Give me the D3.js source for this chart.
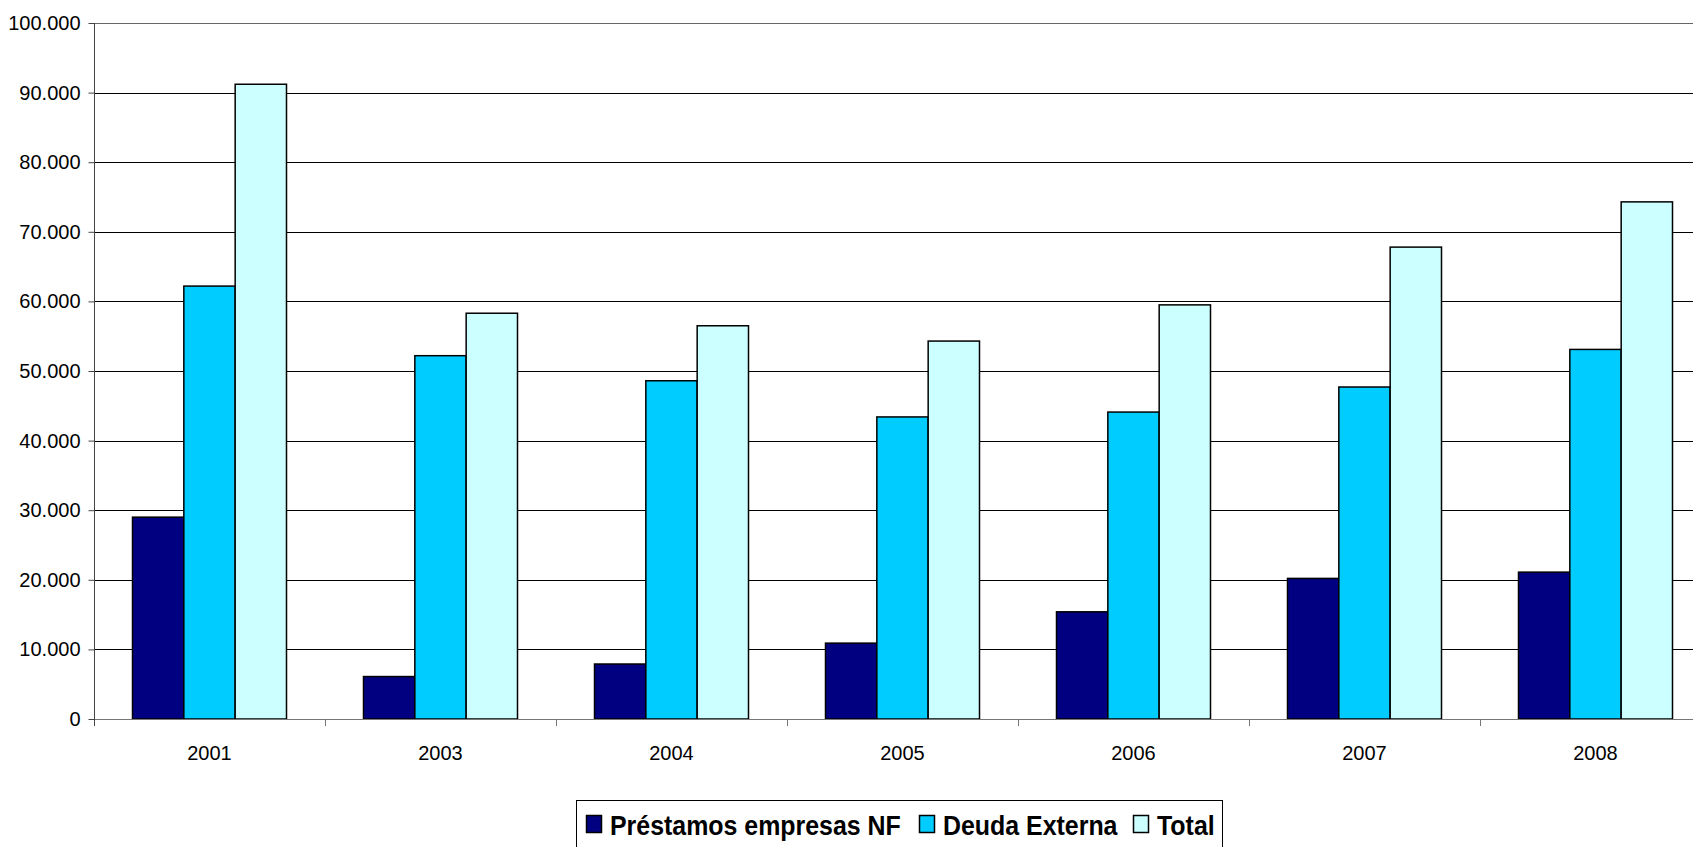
<!DOCTYPE html>
<html>
<head>
<meta charset="utf-8">
<script src="https://cdn.jsdelivr.net/npm/d3@7"></script>
<style>
  body { margin: 0; background: #fff; }
  svg { display: block; font-family: "Liberation Sans", Arial, sans-serif; }
  .yAxis text, .xAxis text { fill: #000; }
</style>
</head>
<body>
<div id="chart"></div>
<script>
// categories and series
const years = ['2001', '2003', '2004', '2005', '2006', '2007', '2008']
const prestamos = [29000, 6100, 7900, 10900, 15400, 20200, 21100]
const deuda = [62200, 52200, 48600, 43400, 44100, 47700, 53100]
const total = [91200, 58300, 56500, 54300, 59500, 67800, 74300]
const seriesNames = ['Préstamos empresas NF', 'Deuda Externa', 'Total']
const yTicks = [0, 10000, 20000, 30000, 40000, 50000, 60000, 70000, 80000, 90000, 100000]

const colors = ['#000080', '#00ccff', '#ccffff']
const series = [prestamos, deuda, total]

const W = 1693, H = 847
const plotLeft = 94, plotTop = 23, plotBottom = 719
const step = 231

const fmt = d3.formatLocale({ decimal: ',', thousands: '.', grouping: [3], currency: ['', ''] }).format(',')

const svg = d3.select('#chart').append('svg')
  .attr('width', W)
  .attr('height', H)

// set the ranges
const x = d3.scaleBand().domain(years)
  .range([plotLeft, plotLeft + step * years.length])
  .paddingInner(1 / 3)
  .paddingOuter(1 / 6)
const xs = d3.scaleBand().domain(d3.range(series.length)).range([0, x.bandwidth()])
const y = d3.scaleLinear().domain([0, 100000]).range([plotBottom, plotTop])

// gridlines
svg.append('g').selectAll('line').data(yTicks.slice(1))
  .enter().append('line')
    .attr('x1', plotLeft).attr('x2', W)
    .attr('y1', d => Math.round(y(d)) + 0.5)
    .attr('y2', d => Math.round(y(d)) + 0.5)
    .attr('stroke', d => d === 100000 ? '#666' : '#000')
    .attr('stroke-width', 1)

// bars
const groups = svg.append('g').selectAll('g').data(years)
  .enter().append('g')
    .attr('transform', d => `translate(${x(d)},0)`)

groups.selectAll('rect')
  .data((d, i) => series.map((s, k) => ({ k: k, v: s[i] })))
  .enter().append('rect')
    .attr('x', d => xs(d.k))
    .attr('width', xs.bandwidth())
    .attr('y', d => y(d.v))
    .attr('height', d => y(0) - y(d.v))
    .attr('fill', d => colors[d.k])
    .attr('stroke', '#000')
    .attr('stroke-width', 1.5)

// x axis line and boundary ticks
svg.append('line')
  .attr('x1', plotLeft).attr('x2', W)
  .attr('y1', plotBottom + 0.5).attr('y2', plotBottom + 0.5)
  .attr('stroke', '#777')
svg.append('g').selectAll('line').data(d3.range(years.length + 1))
  .enter().append('line')
    .attr('x1', i => plotLeft + i * step + 0.5).attr('x2', i => plotLeft + i * step + 0.5)
    .attr('y1', plotBottom).attr('y2', plotBottom + 7)
    .attr('stroke', '#777')

const xAxis = svg.append('g')
  .attr('class', 'xAxis')
  .attr('transform', `translate(0,${plotBottom})`)
  .call(d3.axisBottom(x).tickSize(0).tickPadding(27))
xAxis.select('.domain').remove()
xAxis.selectAll('text').attr('font-size', 20).attr('font-family', null)

// y axis
const yAxis = svg.append('g')
  .attr('class', 'yAxis')
  .attr('transform', `translate(${plotLeft + 0.5},0)`)
  .call(d3.axisLeft(y).tickValues(yTicks).tickFormat(fmt).tickSize(6).tickSizeOuter(0).tickPadding(8))
yAxis.select('.domain').attr('stroke', '#444').attr('d', `M0,${plotTop}V${plotBottom + 7}`)
yAxis.selectAll('.tick line').attr('stroke', '#444')
yAxis.selectAll('text').attr('font-size', 20).attr('font-family', null)

// legend
const legend = svg.append('g')
legend.append('rect')
  .attr('x', 576.5).attr('y', 800.5)
  .attr('width', 646).attr('height', 80)
  .attr('fill', '#fff')
  .attr('stroke', '#000')

const legendX = [586, 919, 1133]
const item = legend.selectAll('g.item').data(seriesNames)
  .enter().append('g')
    .attr('class', 'item')
    .attr('transform', (d, i) => `translate(${legendX[i]},0)`)
item.append('rect')
  .attr('x', 0.5).attr('y', 815.5)
  .attr('width', 15).attr('height', 17)
  .attr('fill', (d, i) => colors[i])
  .attr('stroke', '#000')
  .attr('stroke-width', 1.5)
item.append('text')
  .attr('transform', 'translate(24,835) scale(0.89,1)')
  .attr('font-size', 28)
  .attr('font-weight', 'bold')
  .text(d => d)
</script>
</body>
</html>
